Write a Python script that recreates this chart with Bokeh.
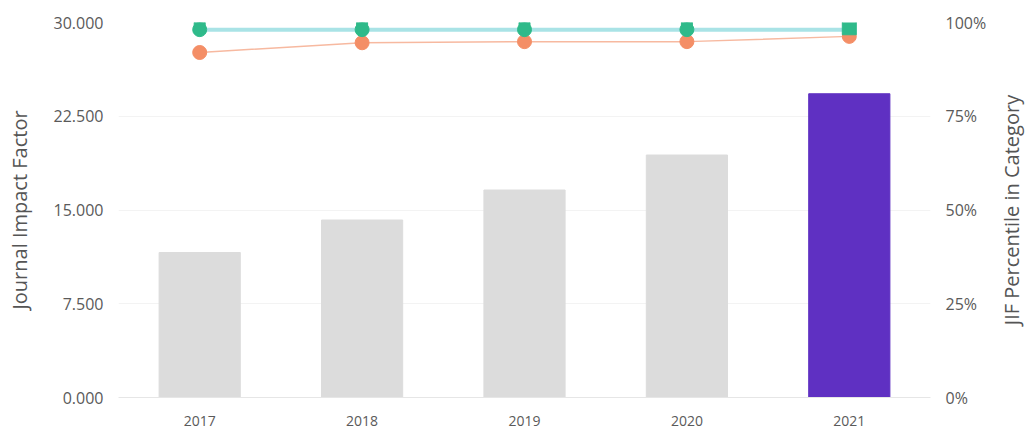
import math
from bokeh.plotting import figure
from bokeh.layouts import row
from bokeh.models import Range1d, LinearAxis, FixedTicker, NumeralTickFormatter, PrintfTickFormatter, ColumnDataSource, Label
from bokeh.embed import file_html
from bokeh.resources import INLINE

years = ["2017", "2018", "2019", "2020", "2021"]
jif = [11.6, 14.2, 16.6, 19.4, 24.3]
pct_top_a = [98.6, 98.6, 98.6, 98.6, 98.6]
pct_top_b = [98.1, 98.1, 98.1, 98.1, 98.1]
pct_low = [92.0, 94.6, 94.9, 94.9, 96.3]
highlight_year = "2021"
jif_ticks = [0, 7.5, 15, 22.5, 30]
pct_ticks = [0, 25, 50, 75, 100]
right_title = "JIF Percentile in Category"

FONT = "Open Sans"
W, H = 996, 434
BL, BR, BT, BB = 118, 66, 22, 37
colors = ["#5f30c2" if y == highlight_year else "#dcdcdc" for y in years]
src = ColumnDataSource(dict(x=years, top=jif, color=colors))

p = figure(x_range=years, y_range=Range1d(0, 30), width=W, height=H,
           output_backend="svg", toolbar_location=None,
           min_border_left=BL, min_border_right=BR, min_border_top=BT, min_border_bottom=BB)
p.outline_line_color = None
p.background_fill_color = "white"
p.border_fill_color = "white"
p.extra_y_ranges = {"pct": Range1d(0, 100)}

p.vbar(x="x", top="top", width=0.5, color="color", source=src)

p.line(years, pct_top_b, y_range_name="pct", line_color="#a9e3e6", line_width=4)
p.line(years, pct_low, y_range_name="pct", line_color="#f7b9a0", line_width=1.5)
p.scatter(years, pct_low, y_range_name="pct", marker="circle", size=14, color="#f48e66")
p.scatter(years[:-1], pct_top_b[:-1], y_range_name="pct", marker="circle", size=14, color="#2fba8a")
p.scatter(years[:-1], pct_top_a[:-1], y_range_name="pct", marker="square", size=11, color="#2fba8a")
p.scatter(years[-1:], pct_top_a[-1:], y_range_name="pct", marker="square", size=14, color="#2fba8a")

p.yaxis.ticker = FixedTicker(ticks=jif_ticks)
p.yaxis.formatter = NumeralTickFormatter(format="0.000")
p.yaxis.axis_label = "Journal Impact Factor"
p.yaxis.axis_line_color = None
p.yaxis.major_label_standoff = 15
p.yaxis.axis_label_standoff = 18

right = LinearAxis(y_range_name="pct", ticker=FixedTicker(ticks=pct_ticks),
                   formatter=PrintfTickFormatter(format="%d%%"))
right.axis_line_color = None
right.major_label_standoff = 15
p.add_layout(right, "right")

p.xaxis.axis_line_color = "#e6e6e6"
p.xaxis.major_label_standoff = 18

for ax in p.yaxis + p.xaxis + [right]:
    ax.major_tick_line_color = None
    ax.minor_tick_line_color = None
    ax.major_tick_out = 0
    ax.major_tick_in = 0
    ax.minor_tick_out = 0
    ax.minor_tick_in = 0
    ax.major_label_text_font = FONT
    ax.major_label_text_font_size = "16px"
    ax.major_label_text_color = "#5a5a5a"
    ax.axis_label_text_font = FONT
    ax.axis_label_text_font_size = "20px"
    ax.axis_label_text_font_style = "normal"
    ax.axis_label_text_color = "#555555"

p.xaxis.major_label_text_font_size = "14px"

p.xgrid.grid_line_color = None
p.ygrid.grid_line_color = "#f3f3f3"
p.ygrid.ticker = FixedTicker(ticks=jif_ticks)

# right-hand axis title, drawn in a narrow companion panel so it reads bottom-to-top
q = figure(width=30, height=H, x_range=Range1d(0, 1), y_range=Range1d(0, 1),
           output_backend="svg", toolbar_location=None,
           min_border_left=0, min_border_right=0, min_border_top=BT, min_border_bottom=BB)
q.axis.visible = False
q.grid.visible = False
q.outline_line_color = None
q.border_fill_color = "white"
q.background_fill_color = "white"
q.add_layout(Label(x=0.5, y=0.5, text=right_title, angle=math.pi / 2,
                   text_align="center", text_baseline="middle", text_font=FONT,
                   text_font_size="20px", text_color="#555555"))

layout = row(p, q)
open("out.html", "w").write(file_html(layout, INLINE))
